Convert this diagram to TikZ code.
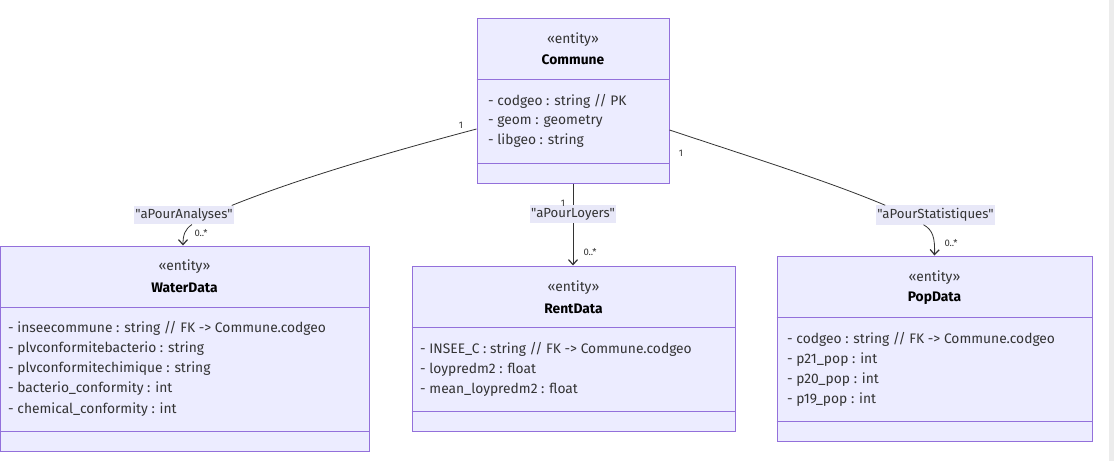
\documentclass[tikz,border=0pt]{standalone}
\usepackage{fontspec}
\newfontfamily\uifont{Fira Sans}
\usetikzlibrary{arrows.meta,calc}
\definecolor{boxfill}{HTML}{ECECFF}
\definecolor{boxline}{HTML}{9370DB}
\definecolor{edge}{HTML}{333333}
\definecolor{lblbg}{HTML}{E8E8F8}
\definecolor{txt}{HTML}{333333}
\definecolor{sidebar}{HTML}{ECECEC}

\begin{document}
\begin{tikzpicture}[x=1pt,y=-1pt,
  entity/.style={draw=boxline, fill=boxfill, line width=1pt, inner sep=0pt, rectangle},
  divider/.style={draw=boxline, line width=1pt},
  attr/.style={anchor=west, inner sep=0pt, font=\uifont\fontsize{13.8}{15}\selectfont, text=txt},
  stereo/.style={inner sep=0pt, font=\uifont\fontsize{13.8}{15}\selectfont, text=txt},
  cname/.style={inner sep=0pt, font=\uifont\fontsize{13.8}{15}\selectfont\bfseries, text=black},
  rel/.style={draw=edge, line width=0.8pt},
  tip/.style={-{Straight Barb[length=5pt,width=9pt,line width=1.2pt]}},
  lbl/.style={fill=lblbg, inner xsep=1pt, inner ysep=3pt, font=\uifont\fontsize{13.2}{15}\selectfont, text=txt},
  mult/.style={inner sep=0pt, font=\uifont\fontsize{9.5}{10}\selectfont, text=txt}]

\useasboundingbox (0,0) rectangle (1114,461);
\fill[white] (0,0) rectangle (1114,461);
\fill[sidebar] (1109,0) rectangle (1114,461);

% class boxes
\node[entity, minimum width=192pt, minimum height=165pt] (commune) at (573,100.5) {};
\node[entity, minimum width=369pt, minimum height=205pt] (water) at (184.5,348.5) {};
\node[entity, minimum width=323pt, minimum height=165pt] (rent) at (573.5,348.5) {};
\node[entity, minimum width=315pt, minimum height=185pt] (pop) at (934.5,348.5) {};

% compartments
\foreach \b in {commune,water,rent,pop}{
  \draw[divider] ([yshift=-62pt]\b.north west) -- ([yshift=-62pt]\b.north east);
  \draw[divider] ([yshift=20.5pt]\b.south west) -- ([yshift=20.5pt]\b.south east);
}

% Commune
\node[stereo] (communeS) at (573,40) {«entity»};
\node[cname] (communeN) at (573,59.5) {Commune};
\node[attr] (communeA1) at (488,101) {- codgeo : string // PK};
\node[attr] (communeA2) at (488,121) {- geom : geometry};
\node[attr] (communeA3) at (488,141) {- libgeo : string};

% WaterData
\node[stereo] (waterS) at (184.5,267) {«entity»};
\node[cname] (waterN) at (184.5,287.5) {WaterData};
\node[attr] (waterA1) at (8,328) {- inseecommune : string // FK -> Commune.codgeo};
\node[attr] (waterA2) at (8,348.5) {- plvconformitebacterio : string};
\node[attr] (waterA3) at (8,369) {- plvconformitechimique : string};
\node[attr] (waterA4) at (8,389) {- bacterio\_conformity : int};
\node[attr] (waterA5) at (8,409.5) {- chemical\_conformity : int};

% RentData
\node[stereo] (rentS) at (573.5,288) {«entity»};
\node[cname] (rentN) at (573.5,308.5) {RentData};
\node[attr] (rentA1) at (420,349) {- INSEE\_C : string // FK -> Commune.codgeo};
\node[attr] (rentA2) at (420,369.5) {- loypredm2 : float};
\node[attr] (rentA3) at (420,390) {- mean\_loypredm2 : float};

% PopData
\node[stereo] (popS) at (934.5,278) {«entity»};
\node[cname] (popN) at (934.5,298) {PopData};
\node[attr] (popA1) at (787,339) {- codgeo : string // FK -> Commune.codgeo};
\node[attr] (popA2) at (787,359.5) {- p21\_pop : int};
\node[attr] (popA3) at (787,380) {- p20\_pop : int};
\node[attr] (popA4) at (787,400) {- p19\_pop : int};

% relation labels
\node[lbl] (lblA) at (184,215) {"aPourAnalyses"};
\node[lbl] (lblL) at (573,214) {"aPourLoyers"};
\node[lbl] (lblS) at (935.5,215) {"aPourStatistiques"};

% relations
\draw[rel] ([yshift=-28.5pt]commune.west) .. controls (390,152) and (300,178) .. ($(lblA.north east)+(-2,0)$);
\draw[rel, tip] ($(lblA.south)+(8,0)$) .. controls (185,229) and (183,235) .. ([xshift=-1.5pt]water.north);

\draw[rel] (commune.south) -- (lblL.north);
\draw[rel, tip] (lblL.south) -- (lblL.south |- rent.north);

\draw[rel] ([yshift=-29.5pt]commune.east) .. controls (760,160) and (830,182) .. ($(lblS.north west)+(9,0)$);
\draw[rel, tip] ($(lblS.south)+(-12,0)$) .. controls (933,230) and (935,238) .. (pop.north);

% multiplicities
\node[mult] (mA1) at (461,125) {1};
\node[mult] (mA2) at (201,233) {0..*};
\node[mult] (mL1) at (563,203) {1};
\node[mult] (mL2) at (590,252) {0..*};
\node[mult] (mS1) at (681,153) {1};
\node[mult] (mS2) at (951,243) {0..*};
\end{tikzpicture}
\end{document}
